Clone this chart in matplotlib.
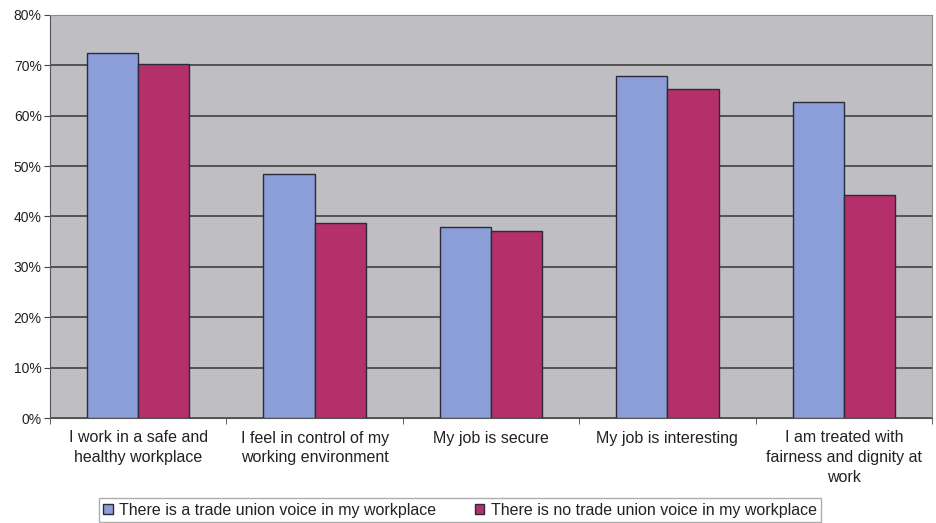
import matplotlib
matplotlib.use('Agg')
import matplotlib.pyplot as plt
import numpy as np

categories = ['I work in a safe and\nhealthy workplace',
              'I feel in control of my\nworking environment',
              'My job is secure',
              'My job is interesting',
              'I am treated with\nfairness and dignity at\nwork']
union_voice = [72.5, 48.4, 37.9, 67.9, 62.8]
no_union_voice = [70.2, 38.8, 37.2, 65.3, 44.3]
series_labels = ['There is a trade union voice in my workplace',
                 'There is no trade union voice in my workplace']
yticks = [0, 10, 20, 30, 40, 50, 60, 70, 80]

plt.rcParams['font.family'] = ['Liberation Sans', 'DejaVu Sans']

fig = plt.figure(figsize=(9.36, 5.23), dpi=100)
ax = fig.add_axes([50 / 936, 1 - 418 / 523, 882 / 936, 403 / 523])
ax.set_facecolor('#bfbfc3')

x = np.arange(len(categories))
w = 0.29
ax.bar(x - w / 2, union_voice, w, color='#8c9ed8', edgecolor='#2a2a3a',
       linewidth=1, label=series_labels[0], zorder=3)
ax.bar(x + w / 2, no_union_voice, w, color='#b5306a', edgecolor='#2a2a3a',
       linewidth=1, label=series_labels[1], zorder=3)

ax.set_xlim(-0.5, len(categories) - 0.5)
ax.set_ylim(0, 80)
ax.set_yticks(yticks)
ax.set_yticklabels([f'{t}%' for t in yticks], fontsize=10, color='#222222')
ax.set_xticks(x)
ax.set_xticklabels(categories, fontsize=11.5, va='top', linespacing=1.4,
                   color='#222222')
ax.tick_params(axis='x', length=0, pad=9)
ax.set_xticks(np.arange(-0.5, len(categories)), minor=True)
ax.tick_params(axis='x', which='minor', length=4, color='#444444')
ax.tick_params(axis='y', length=4, color='#444444', pad=2)
ax.yaxis.grid(True, color='#4a4a4a', linewidth=1.3, zorder=1)
ax.set_axisbelow(True)
for s in ['top', 'right']:
    ax.spines[s].set_color('#8a8a8a')
for s in ['left', 'bottom']:
    ax.spines[s].set_color('#555555')

leg = fig.legend(loc='center', bbox_to_anchor=(460 / 936, 1 - 510 / 523), ncol=2,
                 fontsize=11.5, frameon=True, fancybox=False, edgecolor='#999999',
                 handlelength=0.6, handleheight=0.6, handletextpad=0.4,
                 columnspacing=2.4, borderpad=0.3, labelcolor='#222222')

fig.savefig('out.png', dpi=100)
